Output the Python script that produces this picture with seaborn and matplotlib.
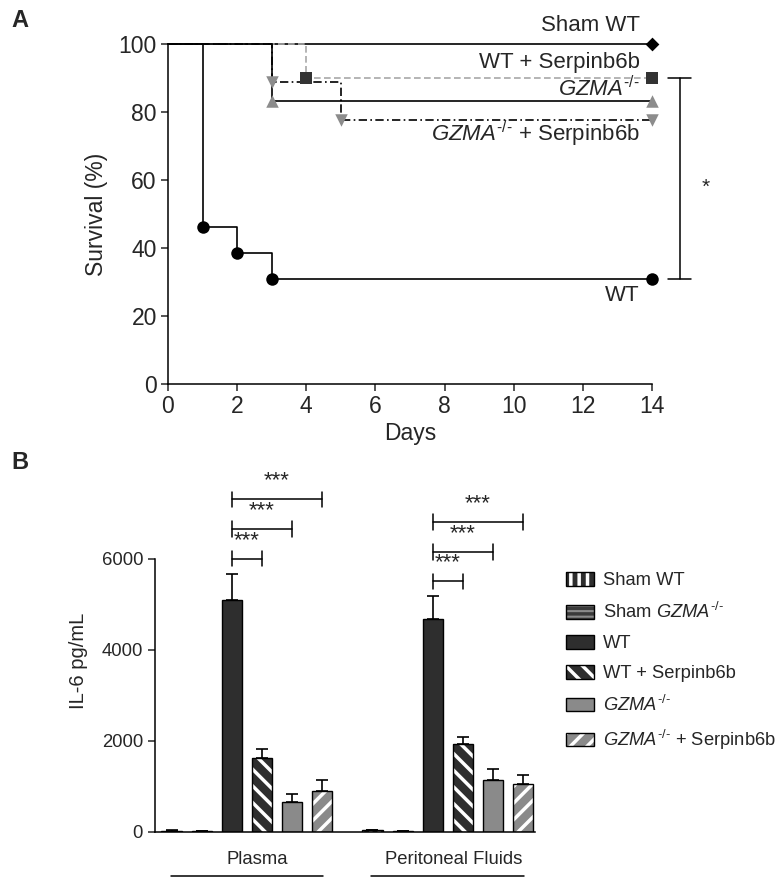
import numpy as np
import pandas as pd
import seaborn as sns
import matplotlib.pyplot as plt
from matplotlib.patches import Patch
from matplotlib.legend_handler import HandlerTuple

# ---- panel A : survival curves ----
sham_days = [0, 14]
sham_surv = [100, 100]
wt_days = [0, 1, 2, 3, 14]
wt_surv = [100, 46.2, 38.5, 30.8, 30.8]
wts_days = [0, 4, 14]
wts_surv = [100, 90, 90]
gzma_days = [0, 3, 14]
gzma_surv = [100, 83.3, 83.3]
gzmas_days = [0, 3, 5, 14]
gzmas_surv = [100, 88.9, 77.8, 77.8]

# ---- panel B : IL-6 ----
groups = ['Sham WT', 'Sham GZMA', 'WT', 'WT + Serpinb6b', 'GZMA', 'GZMA + Serpinb6b']
fluids = ['Plasma', 'Peritoneal Fluids']
plasma_mean = [30, 20, 5100, 1620, 660, 900]
plasma_sem = [10, 5, 570, 210, 180, 250]
perit_mean = [35, 15, 4670, 1930, 1150, 1060]
perit_sem = [10, 5, 500, 150, 240, 190]

GZ = r'$\mathit{GZMA}^{\mathit{\text{-/-}}}$'

sns.set_style('ticks')
plt.rcParams['font.family'] = ['Liberation Sans', 'DejaVu Sans']
plt.rcParams['mathtext.fontset'] = 'custom'
plt.rcParams['mathtext.rm'] = 'Liberation Sans'
plt.rcParams['mathtext.it'] = 'Liberation Sans:italic'
plt.rcParams['mathtext.sf'] = 'Liberation Sans'
plt.rcParams['hatch.linewidth'] = 2.5

fig = plt.figure(figsize=(7.82, 8.85), dpi=100)

# ================= A =================
axA = fig.add_axes([0.2148, 0.566, 0.619, 0.384])
curves = [
    (sham_days, sham_surv, 'black', '-', 'D', 'black', 7),
    (wts_days, wts_surv, '#a8a8a8', (0, (4, 2)), 's', '#333333', 8),
    (gzma_days, gzma_surv, 'black', '-', '^', '#8c8c8c', 9),
    (gzmas_days, gzmas_surv, 'black', (0, (5, 2, 1, 2)), 'v', '#8c8c8c', 9),
    (wt_days, wt_surv, 'black', '-', 'o', 'black', 9),
]
for d, s, lc, ls, mk, mc, ms in curves:
    sns.lineplot(x=d, y=s, ax=axA, color=lc, linestyle=ls, linewidth=1.2,
                 drawstyle='steps-post', clip_on=False, zorder=2)
    sns.scatterplot(x=d[1:], y=s[1:], ax=axA, marker=mk, color=mc,
                    s=ms ** 2, linewidth=0, clip_on=False, zorder=3)

axA.set_xlim(0, 14)
axA.set_ylim(0, 100)
axA.set_xticks(range(0, 15, 2))
axA.set_yticks(range(0, 101, 20))
axA.tick_params(labelsize=16.5, length=5, width=1.1, direction='out', pad=3)
axA.set_xlabel('Days', fontsize=16.5, labelpad=3)
axA.set_ylabel('Survival (%)', fontsize=16.5, labelpad=8)
sns.despine(ax=axA)
for sp in axA.spines.values():
    sp.set_linewidth(1.1)
    sp.set_color('black')

lab_kw = dict(fontsize=16, ha='right', va='center')
axA.text(13.65, 105.5, 'Sham WT', **lab_kw)
axA.text(13.65, 94.5, 'WT + Serpinb6b', **lab_kw)
axA.text(13.65, 87.0, GZ, **lab_kw)
axA.text(13.65, 73.5, GZ + ' + Serpinb6b', **lab_kw)
axA.text(13.65, 26.0, 'WT', **lab_kw)

# significance bracket
bx = 14.8
axA.plot([bx, bx], [wt_surv[-1], wts_surv[-1]], color='black', lw=1.1, clip_on=False)
for yy in (wt_surv[-1], wts_surv[-1]):
    axA.plot([bx - 0.33, bx + 0.33], [yy, yy], color='black', lw=1.1, clip_on=False)
axA.text(15.55, 58, '*', fontsize=15, ha='center', va='center')

fig.text(0.015, 0.977, 'A', fontsize=17, fontweight='bold', va='center')

# ================= B =================
axB = fig.add_axes([0.198, 0.060, 0.486, 0.386])
df = pd.DataFrame({
    'fluid': np.repeat(fluids, len(groups)),
    'group': groups * 2,
    'il6': plasma_mean + perit_mean,
    'sem': plasma_sem + perit_sem,
})
palette = {'Sham WT': '#2e2e2e', 'Sham GZMA': '#8a8a8a', 'WT': '#2e2e2e',
           'WT + Serpinb6b': '#2e2e2e', 'GZMA': '#8a8a8a', 'GZMA + Serpinb6b': '#8a8a8a'}
hatches = {'Sham WT': '||', 'Sham GZMA': '---', 'WT': None,
           'WT + Serpinb6b': '\\\\', 'GZMA': None, 'GZMA + Serpinb6b': '//'}
hatch_col = {'Sham WT': 'white', 'Sham GZMA': '#3a3a3a',
             'WT + Serpinb6b': 'white', 'GZMA + Serpinb6b': 'white'}

sns.barplot(data=df, x='fluid', y='il6', hue='group', hue_order=groups,
            palette=palette, width=0.9, gap=0.33, errorbar=None,
            edgecolor='black', linewidth=1, legend=False, ax=axB)

centers = {}
for gi, g in enumerate(groups):
    cont = axB.containers[gi]
    for fi, bar in enumerate(cont):
        x = bar.get_x() + bar.get_width() / 2
        h = bar.get_height()
        centers[(fluids[fi], g)] = (x, h)
        sem = df[(df.fluid == fluids[fi]) & (df.group == g)]['sem'].iloc[0]
        axB.errorbar(x, h, yerr=[[0], [sem]], fmt='none', ecolor='black',
                     elinewidth=1.2, capsize=4.5, capthick=1.2, zorder=1)
        if hatches[g]:
            bar.set_hatch(hatches[g])
            bar.set_edgecolor(hatch_col[g])
            bar.set_linewidth(0)
            axB.bar(x, h, width=bar.get_width(), fill=False, edgecolor='black',
                    linewidth=1, zorder=bar.get_zorder() + 0.1)

axB.set_xlim(-0.458, 1.433)
axB.set_ylim(0, 7500)
axB.set_yticks([0, 2000, 4000, 6000])
axB.set_xticks([])
axB.set_xlabel('')
axB.set_ylabel('IL-6 pg/mL', fontsize=14.5, labelpad=10)
axB.tick_params(axis='y', labelsize=13.3, length=5, width=1.1, direction='out')
sns.despine(ax=axB)
axB.spines['left'].set_bounds(0, 6000)
for sp in axB.spines.values():
    sp.set_linewidth(1.1)
    sp.set_color('black')

trans = axB.get_xaxis_transform()
for fi, f in enumerate(fluids):
    axB.text(fi + (0.05 if fi == 0 else 0.03), -0.082, f, transform=trans,
             fontsize=13.3, ha='center', va='center')
    axB.plot([fi - 0.38, fi + 0.38], [-0.128, -0.128], transform=trans,
             color='black', lw=1.1, clip_on=False)

# significance brackets
for f in fluids:
    x0, h0 = centers[(f, 'WT')]
    top = h0 + df[(df.fluid == f) & (df.group == 'WT')]['sem'].iloc[0]
    for k, g in enumerate(['WT + Serpinb6b', 'GZMA', 'GZMA + Serpinb6b']):
        x1 = centers[(f, g)][0]
        yb = top + 330 + 650 * k
        axB.plot([x0, x1], [yb, yb], color='black', lw=1.1, clip_on=False)
        for xx in (x0, x1):
            axB.plot([xx, xx], [yb - 170, yb + 170], color='black', lw=1.1, clip_on=False)
        axB.text((x0 + x1) / 2, yb + 400, '***', fontsize=16, ha='center',
                 va='center', clip_on=False)

fig.text(0.015, 0.477, 'B', fontsize=17, fontweight='bold', va='center')

# legend
handles = []
for g in groups:
    base = Patch(facecolor=palette[g], edgecolor='black', linewidth=1)
    if hatches[g]:
        hp = Patch(facecolor=palette[g], edgecolor=hatch_col[g], hatch=hatches[g], linewidth=0)
        ol = Patch(facecolor='none', edgecolor='black', linewidth=1)
        handles.append((hp, ol))
    else:
        handles.append(base)
labels = ['Sham WT', 'Sham ' + GZ, 'WT', 'WT + Serpinb6b', GZ, GZ + ' + Serpinb6b']
fig.legend(handles, labels, loc='upper left', bbox_to_anchor=(0.703, 0.372),
           frameon=False, fontsize=13.2, handlelength=1.5, handleheight=0.75,
           handletextpad=0.5, labelspacing=0.7,
           handler_map={tuple: HandlerTuple(ndivide=1, pad=0)})

fig.savefig('out.png', dpi=100)
